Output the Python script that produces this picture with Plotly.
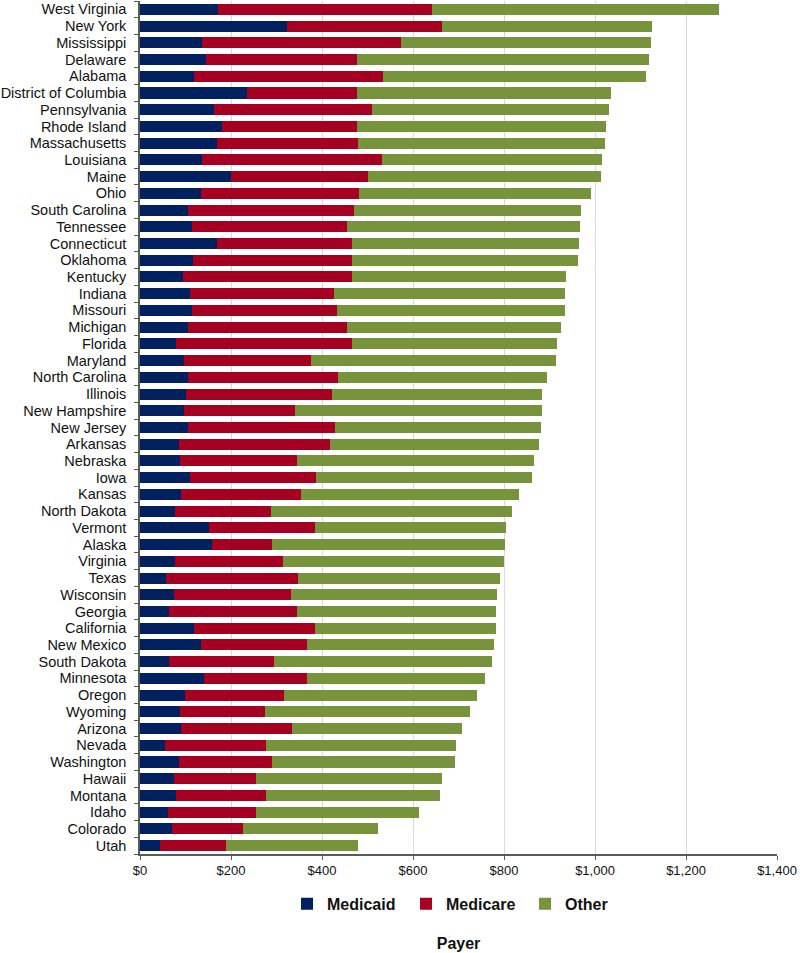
import plotly.graph_objects as go

states = ["West Virginia", "New York", "Mississippi", "Delaware", "Alabama",
          "District of Columbia", "Pennsylvania", "Rhode Island", "Massachusetts",
          "Louisiana", "Maine", "Ohio", "South Carolina", "Tennessee", "Connecticut",
          "Oklahoma", "Kentucky", "Indiana", "Missouri", "Michigan", "Florida",
          "Maryland", "North Carolina", "Illinois", "New Hampshire", "New Jersey",
          "Arkansas", "Nebraska", "Iowa", "Kansas", "North Dakota", "Vermont",
          "Alaska", "Virginia", "Texas", "Wisconsin", "Georgia", "California",
          "New Mexico", "South Dakota", "Minnesota", "Oregon", "Wyoming", "Arizona",
          "Nevada", "Washington", "Hawaii", "Montana", "Idaho", "Colorado", "Utah"]

medicaid = [172, 322, 137, 145, 119, 236, 162, 181, 169, 137, 199, 134, 105, 114, 170,
            117, 94, 109, 114, 105, 79, 97, 105, 101, 97, 105, 85, 88, 109, 90, 78, 151,
            159, 76, 58, 75, 63, 119, 134, 63, 141, 98, 88, 90, 55, 86, 74, 79, 61, 70, 44]

medicare = [470, 342, 436, 333, 415, 240, 348, 296, 311, 395, 301, 348, 365, 342, 295,
            348, 371, 318, 320, 349, 388, 279, 330, 322, 244, 324, 332, 258, 278, 263,
            209, 234, 131, 239, 289, 256, 281, 265, 233, 231, 225, 219, 186, 244, 221,
            205, 181, 198, 195, 156, 145]

other = [631, 461, 551, 640, 577, 560, 520, 547, 543, 483, 513, 510, 500, 511, 500,
         498, 471, 508, 500, 471, 449, 539, 459, 460, 542, 452, 460, 520, 474, 480,
         530, 419, 512, 485, 445, 454, 439, 398, 410, 480, 392, 424, 452, 373, 418,
         402, 408, 383, 358, 298, 291]

tick_vals = [0, 200, 400, 600, 800, 1000, 1200, 1400]
tick_text = ["$0", "$200", "$400", "$600", "$800", "$1,000", "$1,200", "$1,400"]

series = [("Medicaid", medicaid, "#002060"),
          ("Medicare", medicare, "#A50021"),
          ("Other", other, "#77933C")]

fig = go.Figure()
for name, vals, color in series:
    fig.add_trace(go.Bar(
        y=states, x=vals, name=name, orientation="h",
        marker=dict(color=color, line=dict(width=0)),
    ))

FONT = "Liberation Sans, Arial, sans-serif"

fig.update_layout(
    barmode="stack",
    bargap=0.34,
    width=800, height=953,
    margin=dict(l=140, r=23, t=1, b=99),
    paper_bgcolor="white",
    plot_bgcolor="white",
    font=dict(family=FONT, color="#111111"),
    showlegend=True,
    legend=dict(
        orientation="h",
        x=0.2308, xanchor="left",
        y=-0.0584, yanchor="middle",
        font=dict(size=16, family=FONT, color="#111111", weight="bold"),
        entrywidth=74, entrywidthmode="pixels",
        itemwidth=30,
        traceorder="normal",
    ),
    xaxis=dict(
        range=[0, 1400],
        tickvals=tick_vals, ticktext=tick_text,
        tickfont=dict(size=13, family=FONT, color="#111111"),
        showgrid=True, gridcolor="#D9D9D9", gridwidth=1,
        showline=True, linecolor="#595959", linewidth=1.5,
        ticks="outside", ticklen=4, tickcolor="#595959",
        zeroline=False,
        automargin=False,
        title=dict(text="<b>Payer</b>", font=dict(size=16, family=FONT, color="#111111"),
                   standoff=60),
    ),
    yaxis=dict(
        categoryorder="array", categoryarray=states,
        tickmode="array", tickvals=states, ticktext=states,
        autorange="reversed",
        tickfont=dict(size=14.5, family=FONT, color="#111111"),
        showline=True, linecolor="#595959", linewidth=1.5,
        ticks="outside", ticklen=4, tickcolor="#595959",
        tickson="boundaries",
        showgrid=False,
        automargin=False,
        ticklabelstandoff=9,
    ),
)

fig.write_html("out.html", config={"displayModeBar": False},
               post_script="document.body.style.margin='0px';")
